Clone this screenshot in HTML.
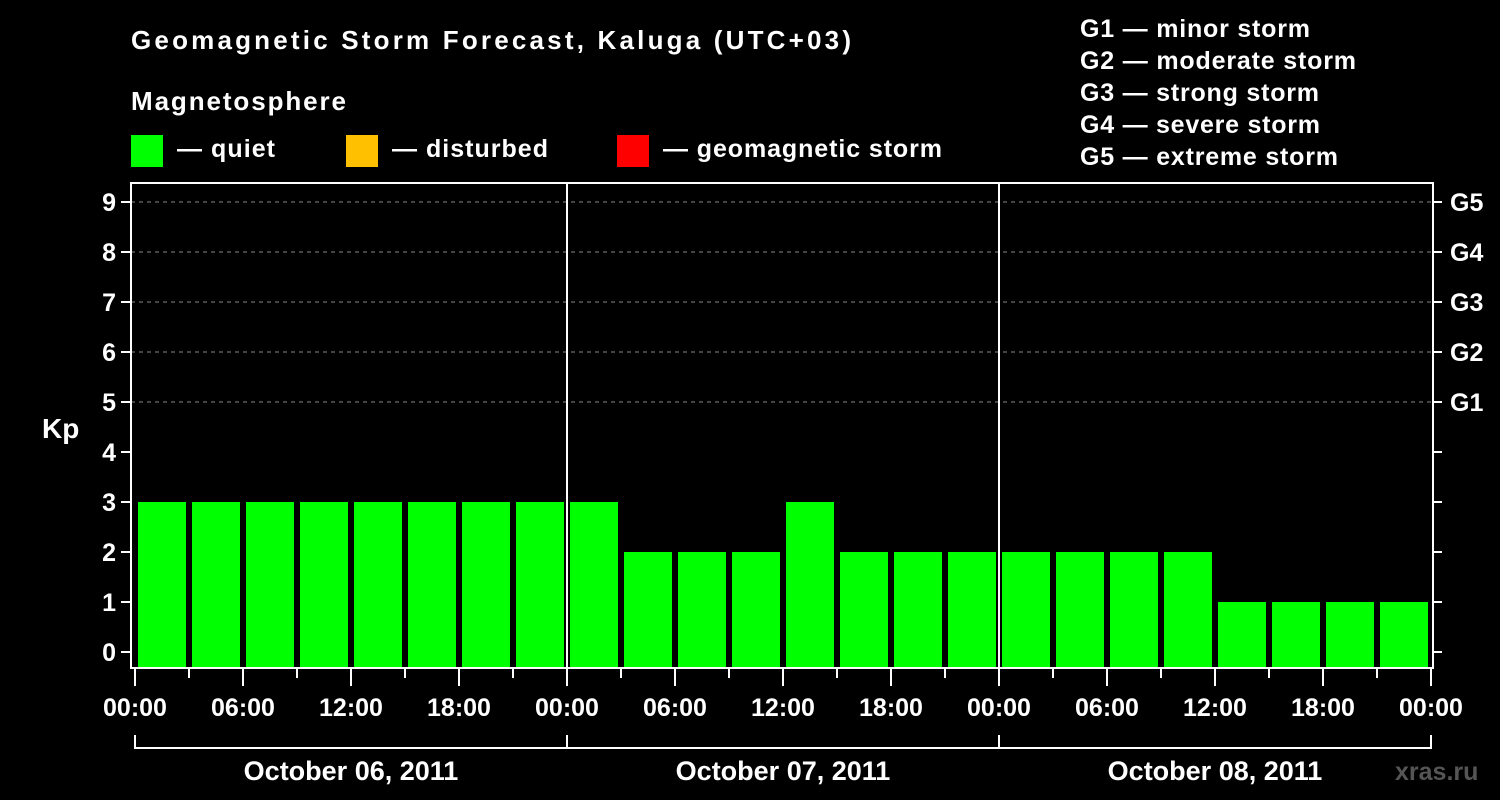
<!DOCTYPE html>
<html><head><meta charset="utf-8"><style>
html,body{margin:0;padding:0;background:#000;width:1500px;height:800px;overflow:hidden}
svg text{font-family:"Liberation Sans",sans-serif;font-weight:bold;fill:#fff}
</style></head><body>
<svg id="chartsvg" width="1500" height="800" xmlns="http://www.w3.org/2000/svg">
<text x="131" y="49" font-size="26" textLength="720" lengthAdjust="spacing">Geomagnetic Storm Forecast, Kaluga (UTC+03)</text>
<text x="131" y="110" font-size="26" textLength="215" lengthAdjust="spacing">Magnetosphere</text>
<rect x="131" y="135" width="32" height="32" fill="#00ff00"/>
<text x="177" y="157" font-size="25" textLength="98" lengthAdjust="spacing">— quiet</text>
<rect x="346" y="135" width="32" height="32" fill="#ffc000"/>
<text x="392" y="157" font-size="25" textLength="156" lengthAdjust="spacing">— disturbed</text>
<rect x="617" y="135" width="32" height="32" fill="#ff0000"/>
<text x="663" y="157" font-size="25" textLength="279" lengthAdjust="spacing">— geomagnetic storm</text>
<g font-size="25">
<text x="1080" y="37" textLength="230" lengthAdjust="spacing">G1 — minor storm</text>
<text x="1080" y="69" textLength="276" lengthAdjust="spacing">G2 — moderate storm</text>
<text x="1080" y="101" textLength="239" lengthAdjust="spacing">G3 — strong storm</text>
<text x="1080" y="133" textLength="240" lengthAdjust="spacing">G4 — severe storm</text>
<text x="1080" y="165" textLength="258" lengthAdjust="spacing">G5 — extreme storm</text>
</g>
<text x="42" y="438" font-size="28">Kp</text>
<text x="1395" y="780" font-size="25" style="fill:#555">xras.ru</text>
<g id="plot"></g>
</svg>
<script>
const kpValues=[3,3,3,3,3,3,3,3, 3,2,2,2,3,2,2,2, 2,2,2,2,1,1,1,1];
const dayLabels=["October 06, 2011","October 07, 2011","October 08, 2011"];
const hourLabels=["00:00","06:00","12:00","18:00"];
const gLabels=["G1","G2","G3","G4","G5"];
const yTicks=[0,1,2,3,4,5,6,7,8,9];
(function(){
const NS="http://www.w3.org/2000/svg";
const grp=document.getElementById('plot');
const x0=135,pxh=18,plotLeft=131,plotRight=1433,plotTop=183,plotBottom=668;
const xs=h=>x0+h*pxh;
const ys=v=>652-v*50;
function mk(t,a){const e=document.createElementNS(NS,t);for(const k in a)e.setAttribute(k,a[k]);grp.appendChild(e);return e;}
for(let v=5;v<=9;v++){
 const l=mk('line',{x1:plotLeft,x2:plotRight,y1:ys(v),y2:ys(v),stroke:'#888','stroke-dasharray':'4,4','stroke-width':1});
 
 
}
kpValues.forEach((v,i)=>{
 const c=v>=5?'#ff0000':(v>=4?'#ffc000':'#00ff00');
 const r=mk('rect',{x:xs(i*3)+3,y:ys(v),width:48,height:plotBottom-ys(v),fill:c});
 
 
});
for(let d=1;d<3;d++){
 const l=mk('line',{x1:xs(d*24),x2:xs(d*24),y1:plotTop,y2:plotBottom,stroke:'#fff','stroke-width':2});
 
 
}
const fr=mk('rect',{x:plotLeft,y:plotTop,width:plotRight-plotLeft,height:plotBottom-plotTop,fill:'none',stroke:'#fff','stroke-width':2});


yTicks.forEach(v=>{
 const t1=mk('line',{x1:121,x2:plotLeft,y1:ys(v),y2:ys(v),stroke:'#fff','stroke-width':2});
 
 
 const t2=mk('line',{x1:plotRight,x2:1442,y1:ys(v),y2:ys(v),stroke:'#fff','stroke-width':2});
 
 
 const tx=mk('text',{x:116,y:ys(v)+9,'font-size':25,'text-anchor':'end'});
 tx.textContent=v;
 
 
});
gLabels.forEach((s,i)=>{
 const tx=mk('text',{x:1450,y:ys(5+i)+9,'font-size':25});
 tx.textContent=s;
 
 
});
for(let h=0;h<=72;h+=3){
 const major=h%6===0;
 const t=mk('line',{x1:xs(h),x2:xs(h),y1:plotBottom,y2:major?686:678,stroke:'#fff','stroke-width':2});
 
 
 if(major){
  const tx=mk('text',{x:xs(h),y:716,'font-size':25,'text-anchor':'middle'});
  tx.textContent=hourLabels[(h/6)%4];
  
  
 }
}
const br=mk('path',{d:`M${xs(0)} 735 V748 H${xs(72)} V735 M${xs(24)} 735 V748 M${xs(48)} 735 V748`,fill:'none',stroke:'#fff','stroke-width':2});


dayLabels.forEach((s,d)=>{
 const tx=mk('text',{x:xs(d*24+12),y:780,'font-size':27,'text-anchor':'middle'});
 tx.textContent=s;
 
 
});
})();
</script>
</body></html>
